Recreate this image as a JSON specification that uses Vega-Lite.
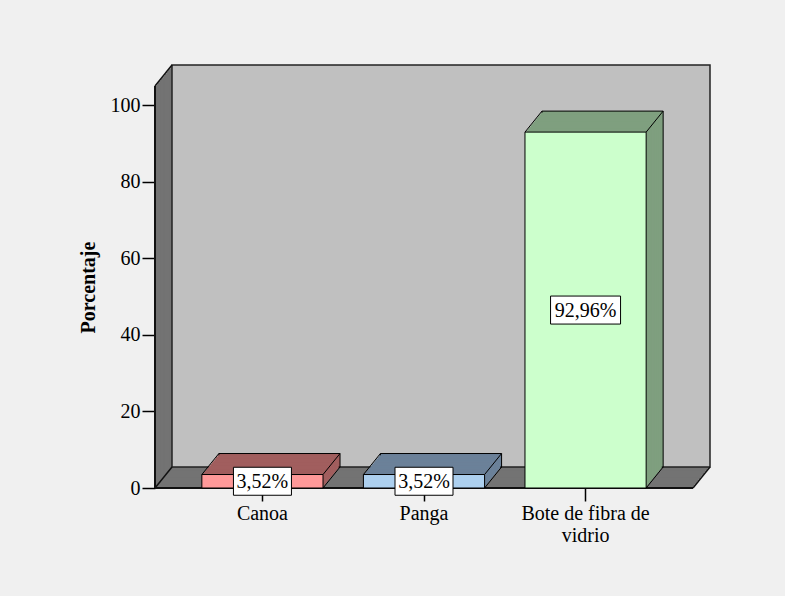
{
  "$schema": "https://vega.github.io/schema/vega-lite/v6.json",
  "width": 538,
  "height": 402,
  "autosize": "none",
  "padding": {"left": 155, "top": 86, "right": 92, "bottom": 108},
  "background": "#f0f0f0",
  "config": {"view": {"stroke": null}, "font": "Liberation Serif"},
  "datasets": {
    "barcos": [
      {"Tipo": "Canoa", "Porcentaje": 3.52},
      {"Tipo": "Panga", "Porcentaje": 3.52},
      {"Tipo": "Bote de fibra de vidrio", "Porcentaje": 92.96}
    ]
  },
  "resolve": {"scale": {"x": "independent", "y": "independent"}},
  "layer": [
    {
      "data": {"values": [{}]},
      "encoding": {
        "x": {"datum": 0, "type": "quantitative", "scale": {"domain": [0, 1]}, "axis": null},
        "x2": {"datum": 1},
        "y": {"datum": 0, "type": "quantitative", "scale": {"domain": [0, 105], "nice": false}, "axis": null},
        "y2": {"datum": 105}
      },
      "layer": [
        {"mark": {"type": "rect", "fill": "#737373", "xOffset": 0, "x2Offset": 0, "yOffset": 0, "y2Offset": 0}},
        {"mark": {"type": "rect", "fill": "#737373", "xOffset": 1.42, "x2Offset": 1.42, "yOffset": -1.75, "y2Offset": -1.75}},
        {"mark": {"type": "rect", "fill": "#737373", "xOffset": 2.83, "x2Offset": 2.83, "yOffset": -3.5, "y2Offset": -3.5}},
        {"mark": {"type": "rect", "fill": "#737373", "xOffset": 4.25, "x2Offset": 4.25, "yOffset": -5.25, "y2Offset": -5.25}},
        {"mark": {"type": "rect", "fill": "#737373", "xOffset": 5.67, "x2Offset": 5.67, "yOffset": -7, "y2Offset": -7}},
        {"mark": {"type": "rect", "fill": "#737373", "xOffset": 7.08, "x2Offset": 7.08, "yOffset": -8.75, "y2Offset": -8.75}},
        {"mark": {"type": "rect", "fill": "#737373", "xOffset": 8.5, "x2Offset": 8.5, "yOffset": -10.5, "y2Offset": -10.5}},
        {"mark": {"type": "rect", "fill": "#737373", "xOffset": 9.92, "x2Offset": 9.92, "yOffset": -12.25, "y2Offset": -12.25}},
        {"mark": {"type": "rect", "fill": "#737373", "xOffset": 11.33, "x2Offset": 11.33, "yOffset": -14, "y2Offset": -14}},
        {"mark": {"type": "rect", "fill": "#737373", "xOffset": 12.75, "x2Offset": 12.75, "yOffset": -15.75, "y2Offset": -15.75}},
        {"mark": {"type": "rect", "fill": "#737373", "xOffset": 14.17, "x2Offset": 14.17, "yOffset": -17.5, "y2Offset": -17.5}},
        {"mark": {"type": "rect", "fill": "#737373", "xOffset": 15.58, "x2Offset": 15.58, "yOffset": -19.25, "y2Offset": -19.25}},
        {"mark": {"type": "rect", "fill": "#c0c0c0", "stroke": "#222222", "strokeWidth": 1.5, "xOffset": 17, "x2Offset": 17, "yOffset": -21, "y2Offset": -21}},
        {
          "mark": {"type": "rule", "color": "#111111", "strokeWidth": 1.5, "x2Offset": 17, "y2Offset": -21},
          "encoding": {
            "x": {"datum": 0, "type": "quantitative", "scale": {"domain": [0, 1]}, "axis": null},
            "x2": {"datum": 0},
            "y": {"datum": 105, "type": "quantitative", "scale": {"domain": [0, 105], "nice": false}, "axis": null},
            "y2": {"datum": 105}
          }
        },
        {
          "mark": {"type": "rule", "color": "#111111", "strokeWidth": 1.5, "x2Offset": 17, "y2Offset": -21},
          "encoding": {
            "x": {"datum": 0, "type": "quantitative", "scale": {"domain": [0, 1]}, "axis": null},
            "x2": {"datum": 0},
            "y": {"datum": 0, "type": "quantitative", "scale": {"domain": [0, 105], "nice": false}, "axis": null},
            "y2": {"datum": 0}
          }
        },
        {
          "mark": {"type": "rule", "color": "#111111", "strokeWidth": 1.5, "x2Offset": 17, "y2Offset": -21},
          "encoding": {
            "x": {"datum": 1, "type": "quantitative", "scale": {"domain": [0, 1]}, "axis": null},
            "x2": {"datum": 1},
            "y": {"datum": 0, "type": "quantitative", "scale": {"domain": [0, 105], "nice": false}, "axis": null},
            "y2": {"datum": 0}
          }
        },
        {
          "mark": {"type": "rule", "color": "#111111", "strokeWidth": 2},
          "encoding": {
            "x": {"datum": 0, "type": "quantitative", "scale": {"domain": [0, 1]}, "axis": null},
            "x2": {"datum": 0},
            "y": {"datum": 0, "type": "quantitative", "scale": {"domain": [0, 105], "nice": false}, "axis": null},
            "y2": {"datum": 105}
          }
        },
        {
          "mark": {"type": "rule", "color": "#111111", "strokeWidth": 2},
          "encoding": {
            "x": {"datum": 0, "type": "quantitative", "scale": {"domain": [0, 1]}, "axis": null},
            "x2": {"datum": 1},
            "y": {"datum": 0, "type": "quantitative", "scale": {"domain": [0, 105], "nice": false}, "axis": null},
            "y2": {"datum": 0}
          }
        }
      ]
    },
    {
      "data": {"name": "barcos"},
      "encoding": {
        "x": {
          "field": "Tipo", "type": "nominal", "sort": null,
          "scale": {"type": "band", "paddingInner": 0.25, "paddingOuter": 0.29},
          "axis": {
            "title": null, "labelAngle": 0, "labelFont": "Liberation Serif", "labelFontSize": 20,
            "labelColor": "black", "labelPadding": 2, "labelLineHeight": 22,
            "labelExpr": "datum.label == 'Bote de fibra de vidrio' ? ['Bote de fibra de', 'vidrio'] : datum.label",
            "tickSize": 13, "tickColor": "black", "tickWidth": 1.5, "domain": false, "grid": false
          }
        },
        "y": {
          "field": "Porcentaje", "type": "quantitative",
          "scale": {"domain": [0, 105], "nice": false},
          "axis": {
            "values": [0, 20, 40, 60, 80, 100], "title": "Porcentaje", "titleFont": "Liberation Serif",
            "titleFontSize": 20, "titleFontWeight": "bold", "titleColor": "black", "titlePadding": 12,
            "labelFont": "Liberation Serif", "labelFontSize": 20, "labelColor": "black", "labelPadding": 2,
            "tickSize": 13, "tickColor": "black", "tickWidth": 1.5, "domain": false, "grid": false
          }
        }
      },
      "layer": [
        {
          "encoding": {
            "fill": {
              "field": "Tipo", "type": "nominal", "sort": null, "legend": null,
              "scale": {"domain": ["Canoa", "Panga", "Bote de fibra de vidrio"], "range": ["#a15e5e", "#6b8199", "#7f9f7f"]}
            }
          },
          "layer": [
            {"mark": {"type": "bar", "stroke": "black", "strokeWidth": 1, "xOffset": 17, "x2Offset": 17, "yOffset": -21, "y2Offset": -21}},
            {"mark": {"type": "bar", "xOffset": 15.58, "x2Offset": 15.58, "yOffset": -19.25, "y2Offset": -19.25}},
            {"mark": {"type": "bar", "xOffset": 14.17, "x2Offset": 14.17, "yOffset": -17.5, "y2Offset": -17.5}},
            {"mark": {"type": "bar", "xOffset": 12.75, "x2Offset": 12.75, "yOffset": -15.75, "y2Offset": -15.75}},
            {"mark": {"type": "bar", "xOffset": 11.33, "x2Offset": 11.33, "yOffset": -14, "y2Offset": -14}},
            {"mark": {"type": "bar", "xOffset": 9.92, "x2Offset": 9.92, "yOffset": -12.25, "y2Offset": -12.25}},
            {"mark": {"type": "bar", "xOffset": 8.5, "x2Offset": 8.5, "yOffset": -10.5, "y2Offset": -10.5}},
            {"mark": {"type": "bar", "xOffset": 7.08, "x2Offset": 7.08, "yOffset": -8.75, "y2Offset": -8.75}},
            {"mark": {"type": "bar", "xOffset": 5.67, "x2Offset": 5.67, "yOffset": -7, "y2Offset": -7}},
            {"mark": {"type": "bar", "xOffset": 4.25, "x2Offset": 4.25, "yOffset": -5.25, "y2Offset": -5.25}},
            {"mark": {"type": "bar", "xOffset": 2.83, "x2Offset": 2.83, "yOffset": -3.5, "y2Offset": -3.5}},
            {"mark": {"type": "bar", "xOffset": 1.42, "x2Offset": 1.42, "yOffset": -1.75, "y2Offset": -1.75}}
          ]
        },
        {
          "mark": {"type": "bar", "stroke": "black", "strokeWidth": 1, "opacity": 1},
          "encoding": {
            "color": {
              "field": "Tipo", "type": "nominal", "sort": null, "legend": null,
              "scale": {"domain": ["Canoa", "Panga", "Bote de fibra de vidrio"], "range": ["#ff9999", "#add0ef", "#ccffcc"]}
            }
          }
        }
      ]
    },
    {
      "data": {"name": "barcos"},
      "layer": [
        {
          "mark": {"type": "rule", "color": "black", "strokeWidth": 1, "x2Offset": 17, "y2Offset": -21},
          "encoding": {
            "x": {"field": "Tipo", "type": "nominal", "sort": null, "bandPosition": 0, "scale": {"type": "band", "paddingInner": 0.25, "paddingOuter": 0.29}, "axis": null},
            "x2": {"field": "Tipo", "bandPosition": 0},
            "y": {"field": "Porcentaje", "type": "quantitative", "scale": {"domain": [0, 105], "nice": false}, "axis": null},
            "y2": {"field": "Porcentaje"}
          }
        },
        {
          "mark": {"type": "rule", "color": "black", "strokeWidth": 1, "x2Offset": 17, "y2Offset": -21},
          "encoding": {
            "x": {"field": "Tipo", "type": "nominal", "sort": null, "bandPosition": 1, "scale": {"type": "band", "paddingInner": 0.25, "paddingOuter": 0.29}, "axis": null},
            "x2": {"field": "Tipo", "bandPosition": 1},
            "y": {"field": "Porcentaje", "type": "quantitative", "scale": {"domain": [0, 105], "nice": false}, "axis": null},
            "y2": {"field": "Porcentaje"}
          }
        },
        {
          "mark": {"type": "rule", "color": "black", "strokeWidth": 1, "x2Offset": 17, "y2Offset": -21},
          "encoding": {
            "x": {"field": "Tipo", "type": "nominal", "sort": null, "bandPosition": 1, "scale": {"type": "band", "paddingInner": 0.25, "paddingOuter": 0.29}, "axis": null},
            "x2": {"field": "Tipo", "bandPosition": 1},
            "y": {"datum": 0, "type": "quantitative", "scale": {"domain": [0, 105], "nice": false}, "axis": null},
            "y2": {"datum": 0}
          }
        }
      ]
    },
    {
      "data": {"name": "barcos"},
      "encoding": {
        "x": {"field": "Tipo", "type": "nominal", "sort": null, "scale": {"type": "band", "paddingInner": 0.25, "paddingOuter": 0.29}, "axis": null},
        "y": {"field": "Porcentaje", "type": "quantitative", "scale": {"domain": [0, 210], "nice": false}, "axis": null}
      },
      "layer": [
        {
          "mark": {
            "type": "point", "filled": true, "fill": "white", "stroke": "black", "strokeWidth": 1, "opacity": 1,
            "shape": {"expr": "'M-1,-' + (28/(12*length(format(datum.Porcentaje,'.2f'))+10)) + 'L1,-' + (28/(12*length(format(datum.Porcentaje,'.2f'))+10)) + 'L1,' + (28/(12*length(format(datum.Porcentaje,'.2f'))+10)) + 'L-1,' + (28/(12*length(format(datum.Porcentaje,'.2f'))+10)) + 'Z'"},
            "size": {"expr": "pow(12*length(format(datum.Porcentaje,'.2f'))+10, 2)"}
          }
        },
        {
          "mark": {
            "type": "text", "font": "Liberation Serif", "fontSize": 20, "color": "black",
            "align": "center", "baseline": "middle", "dy": 1,
            "text": {"expr": "replace(format(datum.Porcentaje, '.2f'), '.', ',') + '%'"}
          }
        }
      ]
    }
  ]
}
